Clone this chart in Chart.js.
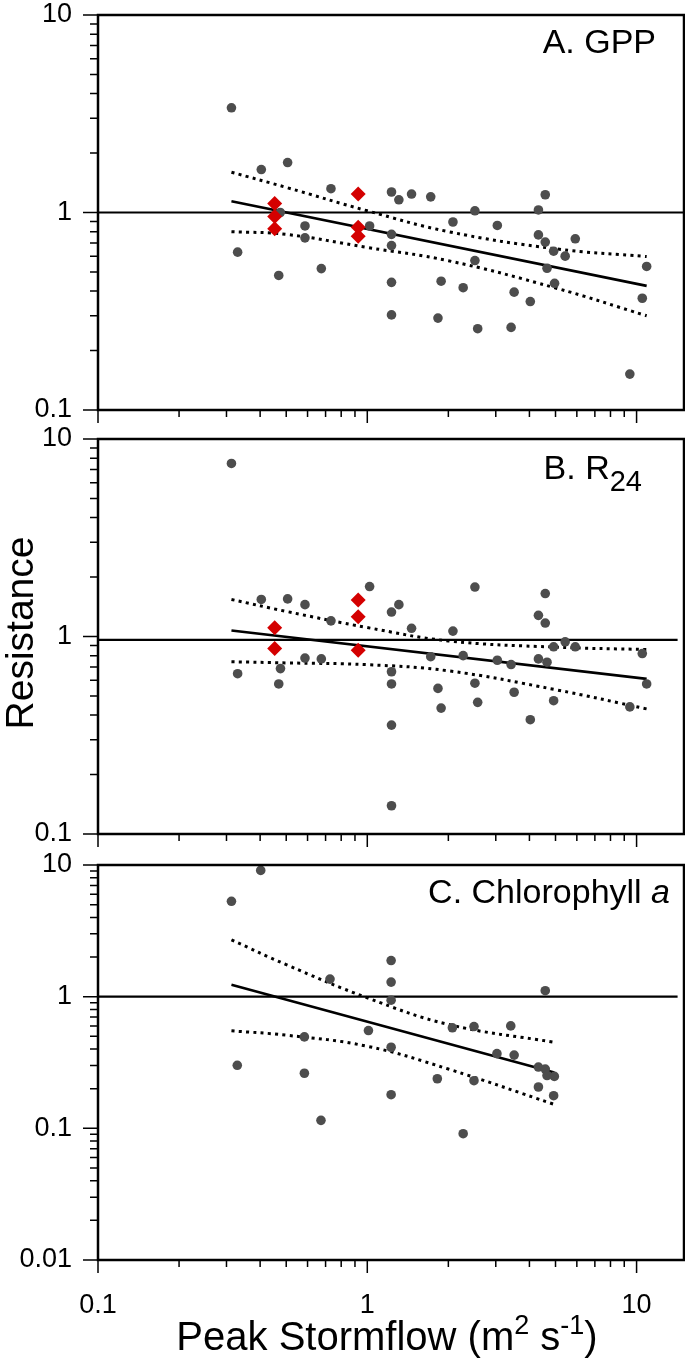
<!DOCTYPE html>
<html>
<head>
<meta charset="utf-8">
<script src="https://cdn.jsdelivr.net/npm/chart.js@4.4.1/dist/chart.umd.min.js"></script>
<style>
    html, body { margin: 0; padding: 0; background: #fff; }
    #wrap { position: relative; width: 685px; height: 1366px; overflow: hidden; }
    #wrap canvas { position: absolute; left: 0; }
</style>
</head>
<body>
<div id="wrap">
    <canvas id="panel-a" width="685" height="430" style="top:0px"></canvas>
    <canvas id="panel-b" width="685" height="425" style="top:425px"></canvas>
    <canvas id="panel-c" width="685" height="516" style="top:850px"></canvas>
</div>
<script>
// ---- data ----
const xTicks = [0.1, 1, 10];
const yTicksAB = [0.1, 1, 10];
const yTicksC = [0.01, 0.1, 1, 10];

// A. GPP
const gppFlow = [0.313, 0.330, 0.404, 0.506, 0.469, 0.475, 0.587, 0.587, 0.675, 0.733, 1.02, 1.23, 1.31, 1.23, 1.23, 1.23, 1.23, 1.46, 1.72, 1.88, 1.83, 2.08, 2.27, 2.51, 2.51, 2.57, 3.04, 3.51, 3.42, 4.03, 4.32, 4.58, 4.32, 4.58, 4.92, 4.65, 4.96, 5.43, 5.92, 9.44, 10.5, 10.9];
const gppRes = [3.39, 0.63, 1.65, 1.79, 0.48, 1.00, 0.855, 0.744, 0.52, 1.32, 0.855, 1.27, 1.16, 0.775, 0.68, 0.443, 0.303, 1.24, 1.20, 0.449, 0.292, 0.895, 0.416, 1.02, 0.571, 0.258, 0.86, 0.395, 0.262, 0.354, 1.03, 1.23, 0.77, 0.708, 0.637, 0.522, 0.438, 0.601, 0.736, 0.152, 0.368, 0.533];
const gppRedFlow = [0.453, 0.453, 0.453, 0.925, 0.925, 0.925];
const gppRedRes = [1.11, 0.954, 0.827, 1.24, 0.843, 0.759];
const gppFitFlow = [0.313, 10.9];
const gppFit = [1.14, 0.425];
const gppBandFlow = [0.313, 0.5, 1, 2, 5, 10.9];
const gppUpper = [1.60, 1.34, 1.02, 0.80, 0.655, 0.598];
const gppLower = [0.80, 0.775, 0.665, 0.57, 0.415, 0.30];
const gppRefFlow = [0.1, 15];
const gppRef = [1, 1];

// B. R24
const r24Flow = [0.313, 0.330, 0.404, 0.506, 0.587, 0.476, 0.469, 0.587, 0.675, 0.733, 1.02, 1.23, 1.31, 1.23, 1.23, 1.23, 1.23, 1.46, 1.72, 1.83, 1.88, 2.08, 2.27, 2.51, 2.51, 2.57, 3.04, 3.42, 3.51, 4.03, 4.32, 4.58, 4.58, 4.32, 4.65, 4.92, 5.43, 5.92, 4.92, 9.44, 10.5, 10.9];
const r24Res = [7.52, 0.648, 1.54, 1.55, 1.45, 0.688, 0.575, 0.778, 0.77, 1.20, 1.79, 1.33, 1.45, 0.663, 0.575, 0.356, 0.139, 1.10, 0.79, 0.546, 0.434, 1.065, 0.80, 1.78, 0.58, 0.464, 0.758, 0.721, 0.522, 0.379, 1.28, 1.65, 1.17, 0.77, 0.741, 0.887, 0.94, 0.887, 0.473, 0.44, 0.82, 0.575];
const r24RedFlow = [0.453, 0.453, 0.925, 0.925, 0.925];
const r24RedRes = [1.107, 0.869, 1.53, 1.26, 0.852];
const r24FitFlow = [0.313, 10.9];
const r24Fit = [1.073, 0.61];
const r24BandFlow = [0.313, 0.5, 1, 2, 5, 10.9];
const r24Upper = [1.54, 1.34, 1.11, 0.95, 0.883, 0.859];
const r24Lower = [0.745, 0.735, 0.72, 0.67, 0.538, 0.43];
const r24RefFlow = [0.1, 14.2];
const r24Ref = [0.962, 0.962];

// C. Chlorophyll a
const chlFlow = [0.313, 0.402, 0.329, 0.584, 0.584, 0.673, 0.727, 1.01, 1.226, 1.226, 1.226, 1.226, 1.226, 1.82, 2.07, 2.27, 2.49, 2.49, 3.03, 3.41, 3.51, 4.32, 4.58, 4.65, 4.95, 4.32, 4.92, 4.58];
const chlRes = [5.3, 9.1, 0.301, 0.495, 0.262, 0.115, 1.36, 0.553, 1.88, 1.29, 0.94, 0.413, 0.18, 0.238, 0.58, 0.091, 0.593, 0.23, 0.369, 0.60, 0.36, 0.292, 0.282, 0.252, 0.248, 0.206, 0.177, 1.11];
const chlFitFlow = [0.313, 4.95];
const chlFit = [1.23, 0.265];
const chlBandFlow = [0.313, 0.5, 1, 2, 4.95];
const chlUpper = [2.7, 1.75, 0.98, 0.615, 0.45];
const chlLower = [0.55, 0.51, 0.42, 0.282, 0.152];
const chlRefFlow = [0.1, 14.2];
const chlRef = [1, 1];

// ---- drawing ----
const FONT = '"Liberation Sans", Arial, Helvetica, sans-serif';
const GREY = '#4d4d4d';
const RED = '#d40000';
Chart.defaults.font.family = FONT;
Chart.defaults.color = '#000';

function pairs(xs, ys) {
    return xs.map((x, i) => ({ x: x, y: ys[i] }));
}

// 1..9 x 10^k positions inside the axis range, for the tick marks
function logSteps(min, max) {
    const out = [];
    for (let e = Math.floor(Math.log10(min)); e <= Math.ceil(Math.log10(max)); e++) {
        for (let m = 1; m <= 9; m++) {
            const v = m * Math.pow(10, e);
            if (v >= min * 0.999 && v <= max * 1.001) {
                out.push({ value: v, major: m === 1 });
            }
        }
    }
    return out;
}

// text made of runs: [text, kind] with kind '', 'sup', 'sub', 'it'
function drawRuns(ctx, runs, x, y, align, size) {
    const fontFor = (k) => {
        if (k === 'sup') return Math.round(size * 0.68) + 'px ' + FONT;
        if (k === 'sub') return Math.round(size * 0.85) + 'px ' + FONT;
        if (k === 'it') return 'italic ' + size + 'px ' + FONT;
        return size + 'px ' + FONT;
    };
    let w = 0;
    for (const [t, k] of runs) {
        ctx.font = fontFor(k);
        w += ctx.measureText(t).width;
    }
    let cx = align === 'right' ? x - w : (align === 'center' ? x - w / 2 : x);
    ctx.textAlign = 'left';
    ctx.textBaseline = 'alphabetic';
    ctx.fillStyle = '#000';
    for (const [t, k] of runs) {
        ctx.font = fontFor(k);
        const dy = k === 'sup' ? -size * 0.4 : (k === 'sub' ? size * 0.36 : 0);
        ctx.fillText(t, cx, y + dy);
        cx += ctx.measureText(t).width;
    }
}

const frameAndTicks = {
    id: 'frameAndTicks',
    afterDraw(chart, args, opts) {
        const { ctx, chartArea: a, scales: { x, y } } = chart;
        ctx.save();
        ctx.strokeStyle = '#000';
        ctx.lineWidth = 1.5;
        ctx.beginPath();
        for (const t of logSteps(x.min, x.max)) {
            const px = x.getPixelForValue(t.value);
            ctx.moveTo(px, a.bottom);
            ctx.lineTo(px, a.bottom + (t.major ? 13 : 7));
        }
        for (const t of logSteps(y.min, y.max)) {
            const py = y.getPixelForValue(t.value);
            ctx.moveTo(a.left, py);
            ctx.lineTo(a.left - (t.major ? 15 : 8), py);
        }
        ctx.stroke();
        ctx.lineWidth = 2.5;
        ctx.strokeRect(a.left, a.top, a.right - a.left, a.bottom - a.top);

        if (opts.label) {
            drawRuns(ctx, opts.label, opts.labelRight, a.top + opts.labelBase, 'right', 34);
        }
        if (opts.yTitle) {
            ctx.save();
            ctx.translate(33, opts.yTitleY);
            ctx.rotate(-Math.PI / 2);
            drawRuns(ctx, [[opts.yTitle, '']], 0, 0, 'center', 39);
            ctx.restore();
        }
        if (opts.xTitle) {
            drawRuns(ctx, opts.xTitle, (a.left + a.right) / 2 - 4, opts.xTitleY, 'center', 40);
        }
        ctx.restore();
    }
};

function makePanel(id, p) {
    const lineSet = (data, dash, width) => ({
        type: 'scatter',
        data: data,
        showLine: true,
        borderColor: '#000',
        borderWidth: width,
        borderDash: dash,
        borderCapStyle: 'butt',
        pointRadius: 0,
        tension: 0.4,
        fill: false
    });
    const datasets = [];
    if (p.red) {
        datasets.push({
            data: p.red, pointStyle: 'rectRot', pointRadius: 7.5, pointHoverRadius: 7.5,
            backgroundColor: RED, borderWidth: 0, order: 0
        });
    }
    datasets.push({
        data: p.grey, pointStyle: 'circle', pointRadius: 4.8, pointHoverRadius: 4.8,
        backgroundColor: GREY, borderWidth: 0, order: 1
    });
    datasets.push(Object.assign(lineSet(p.ref, [], 2.2), { order: 2, tension: 0 }));
    datasets.push(Object.assign(lineSet(p.fit, [], 2.6), { order: 3, tension: 0 }));
    datasets.push(Object.assign(lineSet(p.upper, [3, 4.3], 3), { order: 4 }));
    datasets.push(Object.assign(lineSet(p.lower, [3, 4.3], 3), { order: 5 }));

    return new Chart(document.getElementById(id), {
        type: 'scatter',
        data: { datasets: datasets },
        options: {
            responsive: false,
            animation: false,
            events: [],
            layout: { autoPadding: false, padding: { top: p.padTop, right: 1, left: 0, bottom: 0 } },
            plugins: {
                legend: { display: false },
                tooltip: { enabled: false },
                frameAndTicks: p.decor
            },
            scales: {
                x: {
                    type: 'logarithmic',
                    min: 0.1,
                    max: 15,
                    grid: { display: false, drawTicks: false },
                    border: { display: false },
                    afterBuildTicks: (s) => { s.ticks = xTicks.map((v) => ({ value: v })); },
                    afterFit: (s) => {
                        s.height = p.xHeight;
                        s.paddingLeft = 0;
                        s.paddingRight = 0;
                    },
                    ticks: {
                        display: p.xLabels,
                        padding: 32,
                        maxRotation: 0,
                        autoSkip: false,
                        font: { size: 27, lineHeight: 1 },
                        callback: (v) => String(v)
                    }
                },
                y: {
                    type: 'logarithmic',
                    min: p.yMin,
                    max: 10,
                    grid: { display: false, drawTicks: false },
                    border: { display: false },
                    afterBuildTicks: (s) => { s.ticks = p.yTicks.map((v) => ({ value: v })); },
                    afterFit: (s) => {
                        s.width = 98;
                        s.paddingTop = 0;
                        s.paddingBottom = 0;
                    },
                    ticks: {
                        padding: 26,
                        autoSkip: false,
                        font: { size: 27, lineHeight: 1 },
                        callback: (v) => String(v)
                    }
                }
            }
        },
        plugins: [frameAndTicks]
    });
}

makePanel('panel-a', {
    grey: pairs(gppFlow, gppRes),
    red: pairs(gppRedFlow, gppRedRes),
    fit: pairs(gppFitFlow, gppFit),
    upper: pairs(gppBandFlow, gppUpper),
    lower: pairs(gppBandFlow, gppLower),
    ref: pairs(gppRefFlow, gppRef),
    padTop: 15, xHeight: 20, xLabels: false,
    yMin: 0.1, yTicks: yTicksAB,
    decor: { label: [['A. GPP', '']], labelRight: 656, labelBase: 38 }
});

makePanel('panel-b', {
    grey: pairs(r24Flow, r24Res),
    red: pairs(r24RedFlow, r24RedRes),
    fit: pairs(r24FitFlow, r24Fit),
    upper: pairs(r24BandFlow, r24Upper),
    lower: pairs(r24BandFlow, r24Lower),
    ref: pairs(r24RefFlow, r24Ref),
    padTop: 14, xHeight: 16, xLabels: false,
    yMin: 0.1, yTicks: yTicksAB,
    decor: {
        label: [['B. R', ''], ['24', 'sub']], labelRight: 642, labelBase: 40,
        yTitle: 'Resistance', yTitleY: 208
    }
});

makePanel('panel-c', {
    grey: pairs(chlFlow, chlRes),
    fit: pairs(chlFitFlow, chlFit),
    upper: pairs(chlBandFlow, chlUpper),
    lower: pairs(chlBandFlow, chlLower),
    ref: pairs(chlRefFlow, chlRef),
    padTop: 15, xHeight: 106, xLabels: true,
    yMin: 0.01, yTicks: yTicksC,
    decor: {
        label: [['C. Chlorophyll ', ''], ['a', 'it']], labelRight: 670, labelBase: 38,
        xTitle: [['Peak Stormflow (m', ''], ['2', 'sup'], [' s', ''], ['-1', 'sup'], [')', '']],
        xTitleY: 500
    }
});
</script>
</body>
</html>
